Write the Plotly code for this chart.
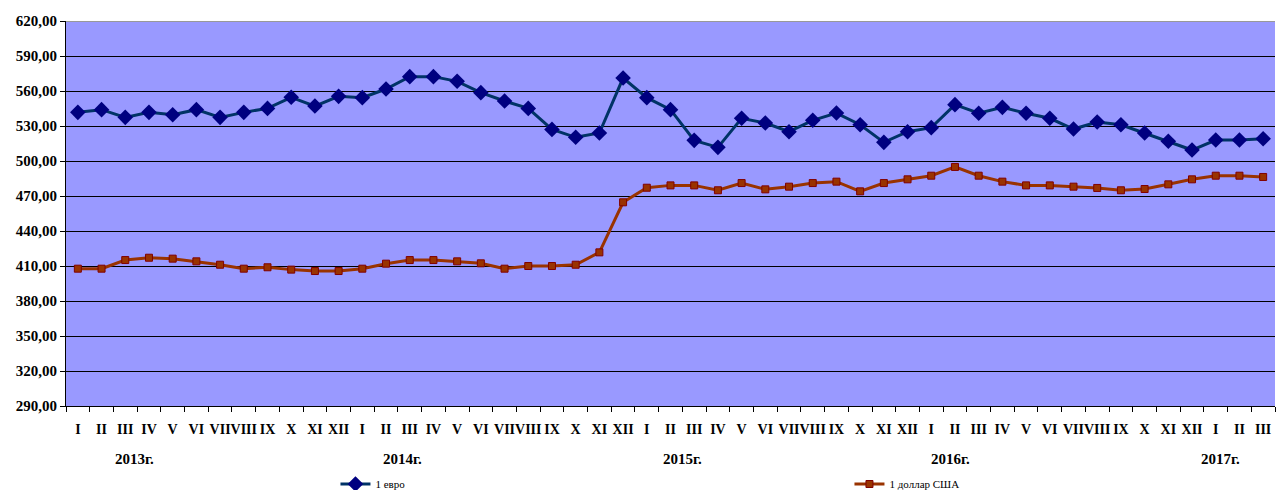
import plotly.graph_objects as go

months = ["I", "II", "III", "IV", "V", "VI", "VII", "VIII", "IX", "X", "XI", "XII"]
month_labels = months * 4 + months[:3]
years = ["2013г.", "2014г.", "2015г.", "2016г.", "2017г."]
year_label_pos = [2.4, 13.7, 25.5, 36.8, 48.2]

euro = [541.7, 544.0, 537.4, 541.7, 539.7, 544.0, 537.4, 541.7, 545.1, 554.6, 547.1, 555.4,
        554.3, 561.7, 572.3, 572.3, 568.3, 558.6, 551.4, 545.1, 527.1, 520.3, 524.0, 571.1,
        554.3, 544.0, 517.7, 511.7, 536.6, 532.6, 525.1, 534.9, 541.1, 531.1, 516.0, 525.1,
        528.6, 548.3, 540.9, 546.0, 540.9, 536.6, 527.4, 533.4, 531.1, 524.0, 516.9, 509.4,
        518.0, 518.0, 519.1]
dollar = [407.7, 407.7, 415.1, 417.1, 416.3, 414.0, 411.1, 407.7, 408.9, 406.9, 405.7, 405.7,
          407.7, 412.0, 415.1, 415.1, 414.0, 412.3, 407.7, 410.0, 410.0, 411.1, 421.7, 464.6,
          477.1, 479.1, 479.1, 474.9, 481.1, 475.7, 478.0, 481.1, 482.3, 474.0, 481.1, 484.3,
          487.4, 494.9, 487.4, 482.3, 479.1, 479.1, 478.0, 476.9, 474.9, 476.0, 480.0, 484.3,
          487.4, 487.4, 486.3]
series_names = ["1 евро", "1 доллар США"]

idx = list(range(len(month_labels)))
serif = "Liberation Serif, Times New Roman, serif"

fig = go.Figure()
fig.add_trace(go.Scatter(
    x=idx, y=euro, name=series_names[0], mode="lines+markers",
    line=dict(color="#003366", width=3),
    marker=dict(symbol="diamond", size=12, color="#000080", line=dict(width=0)),
))
fig.add_trace(go.Scatter(
    x=idx, y=dollar, name=series_names[1], mode="lines+markers",
    line=dict(color="#993300", width=3),
    marker=dict(symbol="square", size=7, color="#993300", line=dict(width=1, color="#800000")),
))

for lab, pos in zip(years, year_label_pos):
    fig.add_annotation(x=pos, y=0, xref="x", yref="paper", text="<b>" + lab + "</b>",
                       showarrow=False, yanchor="top", yshift=-43,
                       font=dict(family=serif, size=15, color="black"))

fig.add_shape(type="line", xref="paper", yref="y", x0=0, x1=1, y0=620, y1=620,
              line=dict(color="#999999", width=2), layer="between")

fig.update_layout(
    width=1277, height=490,
    margin=dict(l=66, r=2, t=21, b=84, autoexpand=False),
    paper_bgcolor="white", plot_bgcolor="#9999FF",
    separators=", ",
    font=dict(family=serif, size=15, color="black"),
    legend=dict(orientation="h", xref="container", x=0.2627, xanchor="left",
                yref="container", y=1 - 484 / 490, yanchor="middle",
                entrywidth=469, entrywidthmode="pixels",
                font=dict(family=serif, size=11, color="black"), bgcolor="rgba(0,0,0,0)"),
    showlegend=True,
)

fig.update_xaxes(
    range=[-0.5, len(idx) - 0.5], tickmode="array", tickvals=idx,
    ticktext=["<b>" + t + "</b>" for t in month_labels],
    tickangle=0, ticks="", showgrid=False, zeroline=False, ticklabelstandoff=10,
    showline=True, linecolor="black", linewidth=1,
    minor=dict(tickmode="linear", tick0=-0.5, dtick=1, ticks="outside", ticklen=5,
               tickcolor="black", showgrid=False),
    tickfont=dict(family=serif, size=14, color="black"),
)
fig.update_yaxes(
    range=[290, 620], tickmode="linear", tick0=290, dtick=30, tickformat=".2f",
    showgrid=True, gridcolor="black", gridwidth=1, zeroline=False,
    showline=True, linecolor="black", linewidth=1,
    ticks="outside", ticklen=5, tickcolor="black",
    tickfont=dict(family=serif, size=15, color="black", weight="bold"),
)

fig.write_html("out.html", config={"displayModeBar": False},
               post_script="document.body.style.margin='0';document.body.style.overflow='hidden';")
